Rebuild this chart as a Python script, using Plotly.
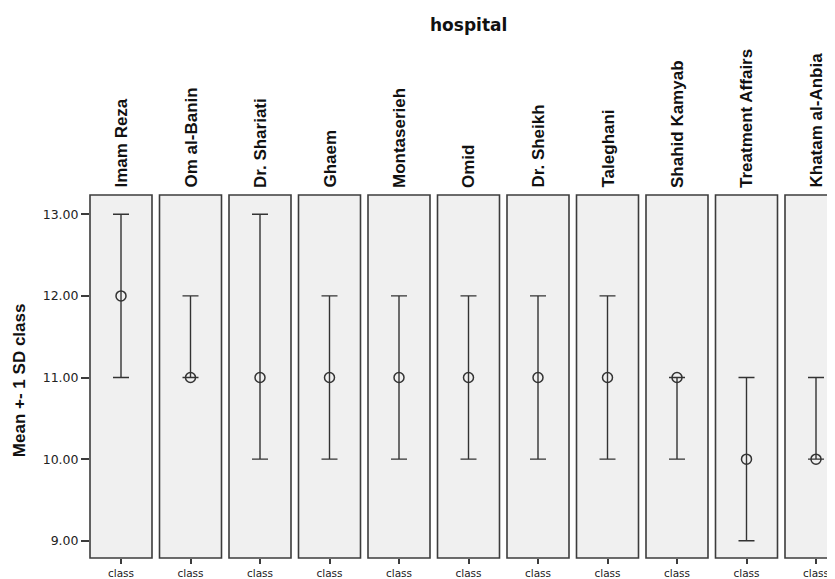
import plotly.graph_objects as go

hospitals = ["Imam Reza", "Om al-Banin", "Dr. Shariati", "Ghaem", "Montaserieh",
             "Omid", "Dr. Sheikh", "Taleghani", "Shahid Kamyab",
             "Treatment Affairs", "Khatam al-Anbia"]
means = [12, 11, 11, 11, 11, 11, 11, 11, 11, 10, 10]
upper = [13, 12, 13, 12, 12, 12, 12, 12, 11, 11, 11]
lower = [11, 11, 10, 10, 10, 10, 10, 10, 10, 9, 10]
x_label = "class"
y_ticks = [9, 10, 11, 12, 13]

OFF = 8  # default page body margin
W, H = 835 - OFF, 579 - OFF
ML = 90 - OFF
MT = 195 - OFF
MB = H - (558 - OFF)
MR = 0
PW = W - ML - MR
PH = H - MT - MB
pitch, pwidth = 69.5, 62.0

fig = go.Figure()
shapes = []
annotations = []
line_col = "#3c3c3c"
for i, name in enumerate(hospitals):
    left = i * pitch
    right = left + pwidth
    d0 = left / PW
    d1 = min(right / PW, 1.0)
    rng_hi = -0.5 + (d1 - d0) * PW / pwidth
    ax = "" if i == 0 else str(i + 1)
    fig.add_trace(go.Scatter(
        x=[0], y=[means[i]],
        xaxis="x" + ax, yaxis="y",
        mode="markers",
        marker=dict(symbol="circle-open", size=10, color="#333333",
                    line=dict(width=1.5, color="#333333")),
        error_y=dict(type="data", symmetric=False,
                     array=[upper[i] - means[i]],
                     arrayminus=[means[i] - lower[i]],
                     color="#333333", thickness=1.4, width=8),
        showlegend=False, hoverinfo="skip", cliponaxis=False,
    ))
    fig.layout["xaxis" + ax] = dict(
        domain=[d0, d1], anchor="y", range=[-0.5, rng_hi],
        tickvals=[0], ticktext=[x_label], ticks="outside", ticklen=5,
        tickwidth=1.5, tickcolor=line_col, showgrid=False, zeroline=False,
        showline=False, fixedrange=True, automargin=False,
        tickfont=dict(family="DejaVu Sans, Liberation Sans, Arial", size=10.5, color="#222222"),
    )
    shapes.append(dict(type="rect", xref="paper", yref="paper",
                       x0=left / PW, x1=right / PW, y0=0, y1=1,
                       fillcolor="#f0f0f0", line=dict(color=line_col, width=1.6),
                       layer="below"))
    annotations.append(dict(
        text="<b>" + name + "</b>", xref="paper", yref="paper",
        x=(left + pwidth / 2) / PW, y=1 + 5 / PH,
        xanchor="center", yanchor="bottom", textangle=-90, showarrow=False,
        font=dict(family="Liberation Sans, Arial", size=17, color="#111111"),
    ))

annotations.append(dict(
    text="<b>hospital</b>", xref="paper", yref="paper",
    x=(468 - 90) / PW, y=1 + (195 - 25) / PH, xanchor="center", yanchor="middle",
    showarrow=False, font=dict(family="DejaVu Sans, Arial", size=17, color="#111111"),
))
annotations.append(dict(
    text="<b>Mean +- 1 SD class</b>", xref="paper", yref="paper",
    x=(19 - 90) / PW, y=0.49, xanchor="center", yanchor="middle",
    textangle=-90, showarrow=False,
    font=dict(family="Liberation Sans, Arial", size=17, color="#111111"),
))

fig.update_layout(
    width=W, height=H,
    margin=dict(l=ML, r=MR, t=MT, b=MB, pad=0, autoexpand=False),
    paper_bgcolor="white", plot_bgcolor="rgba(0,0,0,0)",
    yaxis=dict(range=[8.789, 13.236], tickvals=y_ticks,
               ticktext=["%.2f" % v for v in y_ticks],
               ticks="outside", ticklen=8, tickwidth=1.5, tickcolor=line_col,
               showgrid=False, zeroline=False, showline=False, fixedrange=True,
               automargin=False,
               tickfont=dict(family="DejaVu Sans, Liberation Sans, Arial", size=12.5, color="#222222")),
    shapes=shapes, annotations=annotations,
)

fig.write_html("out.html")
